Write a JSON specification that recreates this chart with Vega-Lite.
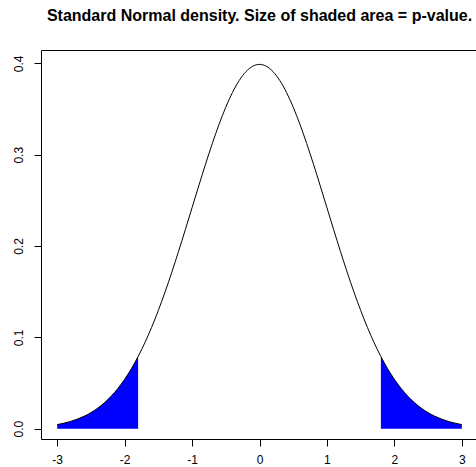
{
  "$schema": "https://vega.github.io/schema/vega-lite/v6.json",
  "autosize": "none",
  "padding": {"left": 41, "top": 50, "right": 0, "bottom": 28},
  "width": 437,
  "height": 389,
  "background": "white",
  "title": {
    "text": "Standard Normal density. Size of shaded area = p-value.",
    "font": "Liberation Sans",
    "fontSize": 16,
    "fontWeight": "bold",
    "color": "black",
    "anchor": "middle",
    "frame": "group",
    "baseline": "alphabetic",
    "offset": 13
  },
  "config": {
    "view": {"stroke": "black", "strokeWidth": 1},
    "axis": {
      "grid": false,
      "domain": false,
      "tickColor": "black",
      "tickSize": 7,
      "labelFont": "Liberation Sans",
      "labelFontSize": 12,
      "labelColor": "black",
      "title": null
    }
  },
  "data": {
    "values": [
      {"x": -3.0, "y": 0.00443}, {"x": -2.9, "y": 0.00595}, {"x": -2.8, "y": 0.00792},
      {"x": -2.7, "y": 0.01042}, {"x": -2.6, "y": 0.01358}, {"x": -2.5, "y": 0.01753},
      {"x": -2.4, "y": 0.02239}, {"x": -2.3, "y": 0.02833}, {"x": -2.2, "y": 0.03547},
      {"x": -2.1, "y": 0.04398}, {"x": -2.0, "y": 0.05399}, {"x": -1.9, "y": 0.06562},
      {"x": -1.8, "y": 0.07895}, {"x": -1.7, "y": 0.09405}, {"x": -1.6, "y": 0.11092},
      {"x": -1.5, "y": 0.12952}, {"x": -1.4, "y": 0.14973}, {"x": -1.3, "y": 0.17137},
      {"x": -1.2, "y": 0.19419}, {"x": -1.1, "y": 0.21785}, {"x": -1.0, "y": 0.24197},
      {"x": -0.9, "y": 0.26609}, {"x": -0.8, "y": 0.28969}, {"x": -0.7, "y": 0.31225},
      {"x": -0.6, "y": 0.33322}, {"x": -0.5, "y": 0.35207}, {"x": -0.4, "y": 0.36827},
      {"x": -0.3, "y": 0.38139}, {"x": -0.2, "y": 0.39104}, {"x": -0.1, "y": 0.39695},
      {"x": 0.0, "y": 0.39894},
      {"x": 0.1, "y": 0.39695}, {"x": 0.2, "y": 0.39104}, {"x": 0.3, "y": 0.38139},
      {"x": 0.4, "y": 0.36827}, {"x": 0.5, "y": 0.35207}, {"x": 0.6, "y": 0.33322},
      {"x": 0.7, "y": 0.31225}, {"x": 0.8, "y": 0.28969}, {"x": 0.9, "y": 0.26609},
      {"x": 1.0, "y": 0.24197}, {"x": 1.1, "y": 0.21785}, {"x": 1.2, "y": 0.19419},
      {"x": 1.3, "y": 0.17137}, {"x": 1.4, "y": 0.14973}, {"x": 1.5, "y": 0.12952},
      {"x": 1.6, "y": 0.11092}, {"x": 1.7, "y": 0.09405}, {"x": 1.8, "y": 0.07895},
      {"x": 1.9, "y": 0.06562}, {"x": 2.0, "y": 0.05399}, {"x": 2.1, "y": 0.04398},
      {"x": 2.2, "y": 0.03547}, {"x": 2.3, "y": 0.02833}, {"x": 2.4, "y": 0.02239},
      {"x": 2.5, "y": 0.01753}, {"x": 2.6, "y": 0.01358}, {"x": 2.7, "y": 0.01042},
      {"x": 2.8, "y": 0.00792}, {"x": 2.9, "y": 0.00595}, {"x": 3.0, "y": 0.00443}
    ]
  },
  "encoding": {
    "x": {
      "field": "x", "type": "quantitative",
      "scale": {"domain": [-3.24, 3.24], "nice": false, "zero": false},
      "axis": {"values": [-3, -2, -1, 0, 1, 2, 3], "labelExpr": "toString(datum.value)", "labelPadding": 8, "labelFlush": false}
    },
    "y": {
      "field": "y", "type": "quantitative",
      "scale": {"domain": [-0.01135, 0.4147], "nice": false, "zero": false},
      "axis": {"values": [0, 0.1, 0.2, 0.3, 0.4], "format": ".1f", "labelAngle": -90, "labelAlign": "center", "labelBaseline": "bottom", "labelPadding": 9, "labelFlush": false}
    }
  },
  "layer": [
    {
      "transform": [{"filter": "datum.x <= -1.8"}],
      "mark": {"type": "area", "color": "#0000FF", "clip": true},
      "encoding": {"y2": {"datum": 0}}
    },
    {
      "transform": [{"filter": "datum.x >= 1.8"}],
      "mark": {"type": "area", "color": "#0000FF", "clip": true},
      "encoding": {"y2": {"datum": 0}}
    },
    {
      "mark": {"type": "line", "color": "black", "strokeWidth": 1, "interpolate": "monotone", "clip": true},
      "encoding": {}
    }
  ]
}
